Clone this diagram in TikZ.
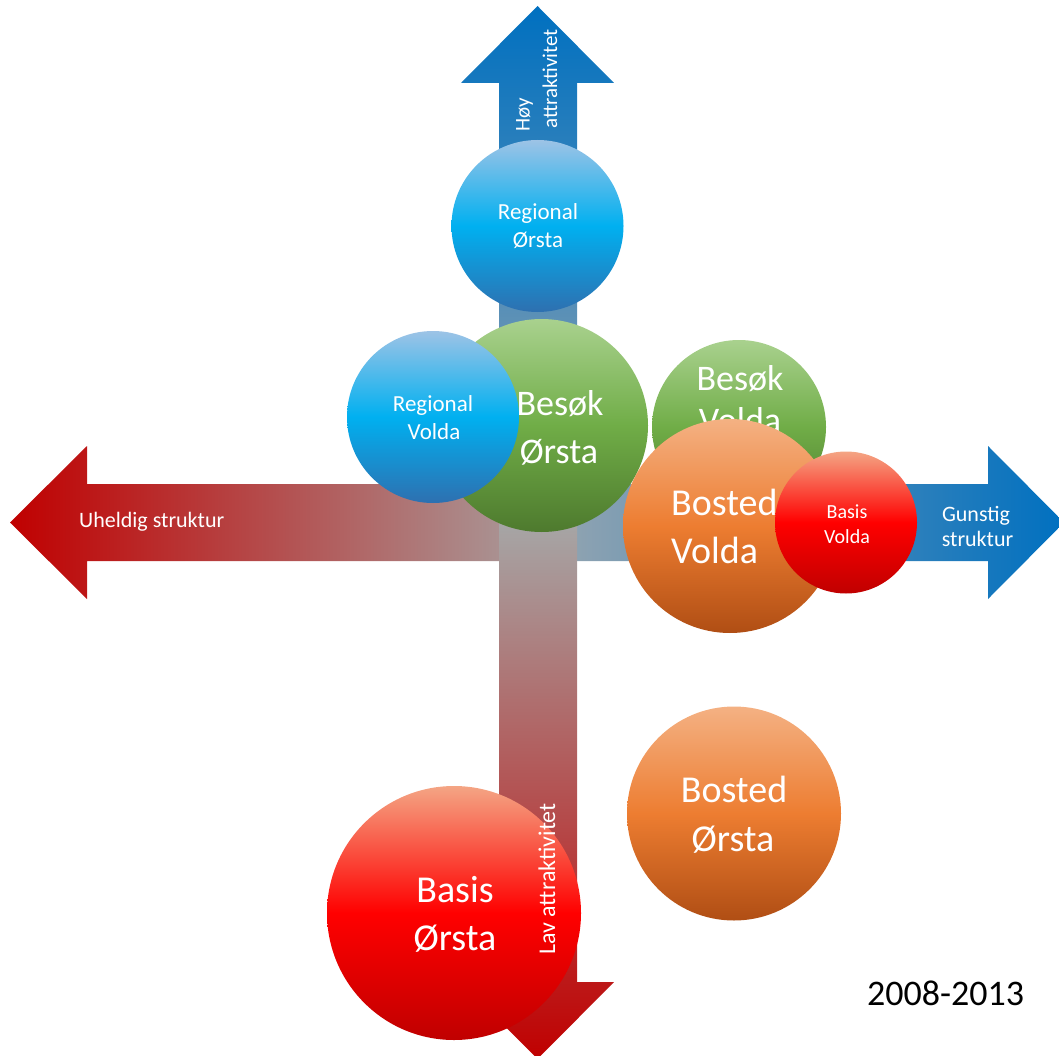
\documentclass[tikz,border=0pt]{standalone}
\usepackage{fontspec}
\setmainfont{Carlito}
\definecolor{aBlue}{HTML}{0070C0}
\definecolor{aRed}{HTML}{C00000}
\definecolor{aGrayR}{HTML}{A89C9C}
\definecolor{aGrayB}{HTML}{98A6B0}
\definecolor{aGray}{HTML}{A6A6A6}
\definecolor{bBlueT}{HTML}{9DC3E6}
\definecolor{bBlueM}{HTML}{00B0F0}
\definecolor{bBlueB}{HTML}{2E70B0}
\definecolor{gT}{HTML}{A9D18E}
\definecolor{gM}{HTML}{70AD47}
\definecolor{gB}{HTML}{4E7A2E}
\definecolor{oT}{HTML}{F4B183}
\definecolor{oM}{HTML}{ED7D31}
\definecolor{oB}{HTML}{B04E14}
\definecolor{rT}{HTML}{F4A584}
\definecolor{rM}{HTML}{FF0000}
\definecolor{rB}{HTML}{C00000}
\begin{document}
\begin{tikzpicture}[x=1pt,y=-1pt,
  bub/.style={circle, inner sep=0pt, minimum size=#1},
  bluegr/.style={top color=bBlueT, bottom color=bBlueB, middle color=bBlueM},
  greengr/.style={top color=gT, bottom color=gB, middle color=gM},
  orangegr/.style={top color=oT, bottom color=oB, middle color=oM},
  redgr/.style={top color=rT, bottom color=rB, middle color=rM},
  lbl/.style={text=white, inner sep=0pt, anchor=base},
  small/.style={font=\fontsize{23}{28}\selectfont},
  mid/.style={font=\fontsize{36}{44}\selectfont},
  big/.style={font=\fontsize{38}{46}\selectfont},
  tiny/.style={font=\fontsize{20}{25}\selectfont},
  arr/.style={font=\fontsize{22}{27}\selectfont},
]
\useasboundingbox (0,0) rectangle (1059,1056);

% horizontal arrows
\shade[left color=aRed, right color=aGrayR]
  (537.5,484) -- (87,484) -- (87,446) -- (10,522.5) -- (87,599) -- (87,561) -- (537.5,561) -- cycle;
\shade[left color=aGrayB, right color=aBlue]
  (537.5,484) -- (988,484) -- (988,446) -- (1064,522.5) -- (988,599) -- (988,561) -- (537.5,561) -- cycle;
% vertical arrows
\shade[top color=aBlue, bottom color=aGrayB]
  (499,522.5) -- (499,83) -- (461,83) -- (537.5,6) -- (614,83) -- (577,83) -- (577,522.5) -- cycle;
\shade[top color=aGray, bottom color=aRed]
  (499,522.5) -- (499,982) -- (461,982) -- (537.5,1059) -- (614,982) -- (577,982) -- (577,522.5) -- cycle;

% bubbles
\node[bub=172pt, bluegr] (regO) at (537.5,226) {};
\node[lbl, small] (regO1) at (538,220) {Regional};
\node[lbl, small] (regO2) at (538,248) {Ørsta};

\node[bub=213pt, greengr] (besO) at (541.5,425.5) {};
\node[lbl, mid] (besO1) at (560,415) {Besøk};
\node[lbl, mid] (besO2) at (559,463) {Ørsta};

\node[bub=172pt, bluegr] (regV) at (433,417) {};
\node[lbl, small] (regV1) at (433,411) {Regional};
\node[lbl, small] (regV2) at (434,439) {Volda};

\node[bub=174pt, greengr] (besV) at (739,427) {};
\node[lbl, mid] (besV1) at (740,390) {Besøk};
\node[lbl, mid] (besV2) at (740,432) {Volda};

\node[bub=214pt, orangegr] (bosV) at (730,526) {};
\node[lbl, big, anchor=base west] (bosV1) at (671,515) {Bosted};
\node[lbl, big, anchor=base west] (bosV2) at (671,563) {Volda};

\node[bub=142pt, redgr] (basV) at (846,522.5) {};
\node[lbl, tiny] (basV1) at (847,518) {Basis};
\node[lbl, tiny] (basV2) at (847,543) {Volda};

\node[bub=214pt, orangegr] (bosO) at (734,813.5) {};
\node[lbl, big] (bosO1) at (734,802) {Bosted};
\node[lbl, big] (bosO2) at (733,851) {Ørsta};

\node[bub=254pt, redgr] (basO) at (454,913) {};
\node[lbl, big] (basO1) at (455,902) {Basis};
\node[lbl, big] (basO2) at (455,950) {Ørsta};

% arrow labels
\node[lbl, arr, anchor=base west] (uhel) at (79,527) {Uheldig struktur};
\node[lbl, arr] (gun1) at (976,521) {Gunstig};
\node[lbl, arr] (gun2) at (977.5,546) {struktur};
\node[lbl, font=\fontsize{21}{26}\selectfont, rotate=90, anchor=base west] (hoy1) at (529.5,132) {Høy};
\node[lbl, font=\fontsize{21}{26}\selectfont, rotate=90, anchor=base west] (hoy2) at (557,129) {attraktivitet};
\node[lbl, font=\fontsize{24}{29}\selectfont, rotate=90, anchor=base west] (lav) at (555,955) {Lav attraktivitet};

\node[inner sep=0pt, anchor=base, text=black, font=\fontsize{36}{44}\selectfont] (year) at (945.5,1005) {2008-2013};
\end{tikzpicture}
\end{document}
